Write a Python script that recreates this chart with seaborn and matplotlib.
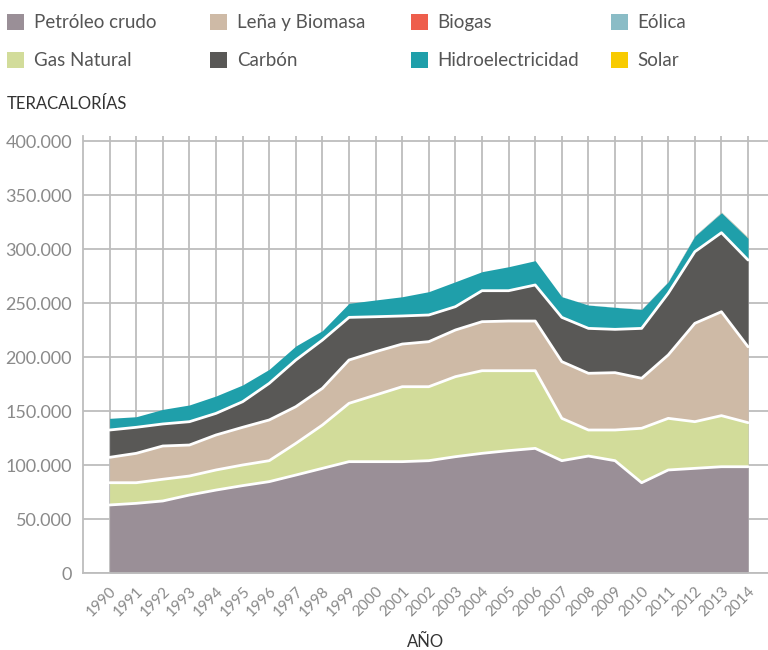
import numpy as np
import pandas as pd
import seaborn as sns
import matplotlib.pyplot as plt
from matplotlib.patches import Patch
from matplotlib.ticker import FuncFormatter

# Consumo de energía primaria por fuente (teracalorías)
years = list(range(1990, 2015))
petroleo = [63000, 64500, 66700, 72200, 76800, 80900, 84600, 90700, 96900, 103100,
            103100, 103100, 104000, 107700, 110800, 113300, 115400, 104000, 108300, 104000,
            83600, 95400, 96900, 98400, 98400]
gas_natural = [20600, 19100, 20100, 17600, 18600, 19100, 19400, 29300, 40100, 54000,
               61700, 69400, 68500, 74100, 76500, 74000, 71900, 39200, 24100, 28400,
               50400, 47800, 43200, 47300, 40800]
lena = [23500, 27200, 30800, 28700, 32400, 34900, 37700, 34000, 34000, 40100,
        40100, 39500, 41700, 43200, 45400, 46000, 46000, 52500, 52500, 53100,
        46300, 58700, 91100, 96200, 70300]
carbon = [25300, 24100, 20400, 21600, 20000, 23700, 33900, 43200, 44700, 39500,
          32400, 26000, 24700, 21600, 28700, 28100, 33400, 41000, 41600, 40100,
          46200, 57100, 66300, 73200, 80300]
hidro = [10800, 9800, 13500, 15500, 16100, 15500, 13000, 13000, 8700, 13000,
         15500, 17800, 21600, 23100, 17600, 22200, 22500, 19100, 21600, 20400,
         17600, 10700, 14500, 18500, 20100]
biogas = [0] * 20 + [50, 80, 100, 120, 150]
eolica = [0] * 17 + [80, 90, 120, 200, 300, 350, 480, 600]
solar = [0] * 22 + [20, 60, 150]

series = ['Petróleo crudo', 'Gas Natural', 'Leña y Biomasa', 'Carbón',
          'Hidroelectricidad', 'Biogas', 'Eólica', 'Solar']
colors = ['#9a8f97', '#d2dc9a', '#cebaa6', '#595856',
          '#1f9faa', '#ee5e4c', '#8abcc6', '#f8cb00']

df = pd.DataFrame({'Año': years, 'Petróleo crudo': petroleo, 'Gas Natural': gas_natural,
                   'Leña y Biomasa': lena, 'Carbón': carbon, 'Hidroelectricidad': hidro,
                   'Biogas': biogas, 'Eólica': eolica, 'Solar': solar})

sns.set_style('white')
plt.rcParams['font.family'] = ['Lato', 'DejaVu Sans']

fig = plt.figure(figsize=(7.68, 6.5), dpi=100)
ax = fig.add_axes([83 / 768, 77 / 650, 685 / 768, 437.4 / 650])

ax.stackplot(df['Año'], [df[s] for s in series], colors=colors, linewidth=0)

# white separators between the main layers
cum = df[series[:4]].cumsum(axis=1)
for s in series[:4]:
    sns.lineplot(x=df['Año'], y=cum[s], ax=ax, color='white', linewidth=2)

ax.set_xlim(1989, 2014.75)
ax.set_ylim(0, 405000)
ax.set_xticks(years)
ax.set_xticklabels([str(y) for y in years], rotation=45, ha='right',
                   rotation_mode='anchor', color='#8a8a8a', fontsize=11)
ax.set_yticks(range(0, 400001, 50000))
ax.yaxis.set_major_formatter(FuncFormatter(lambda v, p: f'{int(v):,}'.replace(',', '.')))
ax.tick_params(axis='y', length=0, pad=8, labelcolor='#8a8a8a', labelsize=13)
ax.tick_params(axis='x', length=5, width=1.2, color='#bdbdbd', pad=3)
ax.grid(True, color='#bdbdbd', linewidth=1.3)
ax.set_axisbelow(True)
for side in ['top', 'right']:
    ax.spines[side].set_visible(False)
for side in ['left', 'bottom']:
    ax.spines[side].set_color('#bdbdbd')
    ax.spines[side].set_linewidth(1.3)
ax.set_xlabel('AÑO', fontsize=12, color='#333333', labelpad=11)
ax.set_ylabel('')

fig.text(7 / 768, 1 - 104 / 650, 'TERACALORÍAS', fontsize=12, color='#333333',
         va='center', ha='left')

# legend in four fixed columns
handles = [Patch(facecolor=c, edgecolor='none') for c in colors]
col_items = [[0, 1], [2, 3], [5, 4], [6, 7]]
col_x = [7, 210, 411, 611]
for xs, idx in zip(col_x, col_items):
    leg = fig.legend([handles[i] for i in idx], [series[i] for i in idx],
                     loc='upper left', bbox_to_anchor=(xs / 768, 1 - 14 / 650),
                     frameon=False, fontsize=13.5, handlelength=0.92, handleheight=0.92,
                     handletextpad=0.5, labelspacing=1.1, borderpad=0, borderaxespad=0)
    for t in leg.get_texts():
        t.set_color('#555555')

fig.savefig('out.png', dpi=100)
